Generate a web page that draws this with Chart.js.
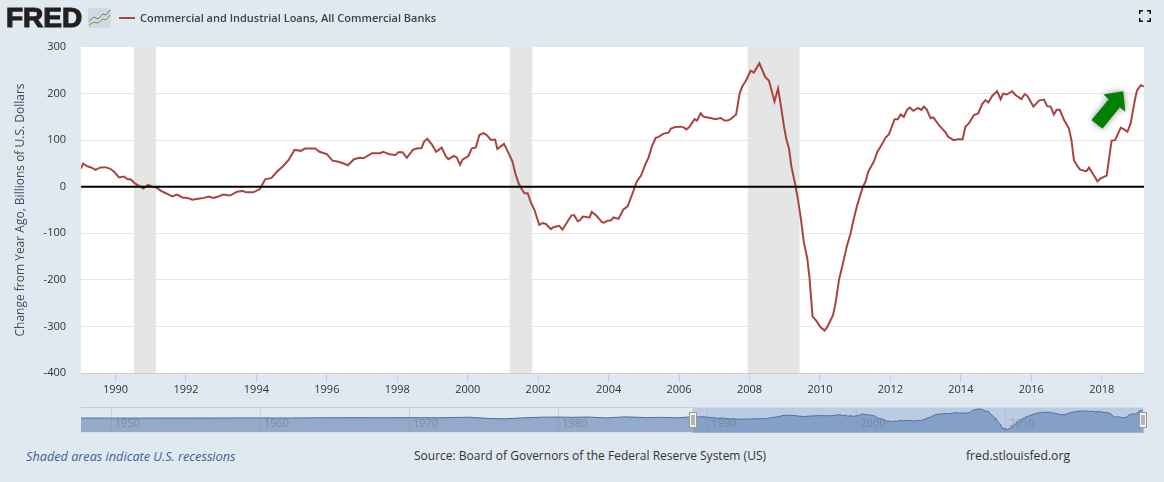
<!DOCTYPE html>
<html>
<head>
<meta charset="utf-8">
<script src="https://cdn.jsdelivr.net/npm/chart.js@4"></script>
<style>
  html, body { margin: 0; padding: 0; background: #e1e9f0; overflow: hidden; }
  body { width: 1164px; height: 482px; position: relative; font-family: "Open Sans", sans-serif; }
  canvas { position: absolute; left: 0; }
  .txt { position: absolute; white-space: nowrap; }
  #logo { left: 6px; top: 1px; font: bold 28px/34px "Liberation Sans", sans-serif; color: #231f20; -webkit-text-stroke: 1.2px #231f20; }
  #legendLine { position: absolute; left: 119px; top: 17px; width: 16px; height: 2px; background: #a94442; }
  #chartTitle { left: 140px; top: 9px; font-size: 11px; line-height: 18px; font-weight: 600; color: #3b4250; }
  #recessionNote { left: 26px; top: 447px; font-size: 12.7px; line-height: 18px; font-style: italic; color: #3f6296; }
  #source { left: 414px; top: 447px; font-size: 12px; line-height: 18px; color: #333; }
  #site { left: 966px; top: 447px; font-size: 12.2px; line-height: 18px; color: #333; }
  svg { position: absolute; }
</style>
</head>
<body>
<canvas id="mainChart" width="1164" height="400" style="top:0;width:1164px;height:400px"></canvas>
<canvas id="navChart" width="1164" height="40" style="top:400px;width:1164px;height:40px"></canvas>

<div id="logo" class="txt">FRED</div>
<svg style="left:88px;top:8px" width="23" height="20" viewBox="0 0 23 20">
  <rect width="23" height="20" rx="2" fill="#d4d9dd"/>
  <polyline points="1,13 6,9 10,11 15,6 18,7 22,2" fill="none" stroke="#5a7fa8" stroke-width="1"/>
  <polyline points="1,17 6,14 10,15 15,11 18,12 22,7" fill="none" stroke="#6b9e4a" stroke-width="1"/>
</svg>
<div id="legendLine"></div>
<div id="chartTitle" class="txt">Commercial and Industrial Loans, All Commercial Banks</div>
<svg style="left:1139px;top:10px" width="12" height="12" viewBox="0 0 12 12">
  <path d="M0.75 4V0.75H4M8 0.75H11.25V4M11.25 8V11.25H8M4 11.25H0.75V8" fill="none" stroke="#111" stroke-width="1.5"/>
</svg>
<div id="recessionNote" class="txt">Shaded areas indicate U.S. recessions</div>
<div id="source" class="txt">Source: Board of Governors of the Federal Reserve System (US)</div>
<div id="site" class="txt">fred.stlouisfed.org</div>

<script>
const seriesName = "Commercial and Industrial Loans, All Commercial Banks";
const yAxisTitle = "Change from Year Ago, Billions of U.S. Dollars";

const years = [
  1989.02,1989.08,1989.2,1989.32,1989.43,1989.56,1989.7,1989.84,1989.96,1990.1,1990.24,1990.34,1990.43,1990.55,1990.68,1990.79,1990.92,1991.05,1991.17,1991.29,
  1991.43,1991.61,1991.75,1991.9,1992.04,1992.18,1992.35,1992.51,1992.64,1992.78,1992.92,1993.06,1993.25,1993.44,1993.61,1993.7,1993.91,1994.1,1994.25,1994.43,
  1994.58,1994.74,1994.91,1995.08,1995.26,1995.38,1995.67,1995.79,1996.0,1996.16,1996.3,1996.44,1996.6,1996.77,1996.93,1997.04,1997.28,1997.51,1997.6,1997.78,
  1997.94,1998.03,1998.15,1998.27,1998.44,1998.55,1998.69,1998.76,1998.85,1998.98,1999.1,1999.26,1999.38,1999.45,1999.61,1999.69,1999.78,1999.85,2000.02,2000.11,
  2000.23,2000.33,2000.45,2000.54,2000.65,2000.78,2000.84,2001.03,2001.16,2001.27,2001.35,2001.44,2001.53,2001.61,2001.7,2001.8,2001.89,2002.03,2002.13,2002.22,
  2002.36,2002.43,2002.6,2002.69,2002.94,2003.02,2003.12,2003.17,2003.27,2003.46,2003.52,2003.65,2003.81,2003.87,2003.97,2004.07,2004.14,2004.28,2004.42,2004.54,
  2004.68,2004.8,2004.92,2005.06,2005.13,2005.23,2005.34,2005.42,2005.56,2005.7,2005.77,2005.89,2006.04,2006.13,2006.21,2006.3,2006.44,2006.51,2006.61,2006.7,
  2006.89,2007.03,2007.18,2007.29,2007.38,2007.46,2007.62,2007.72,2007.79,2007.91,2008.03,2008.12,2008.28,2008.41,2008.45,2008.55,2008.71,2008.81,2008.88,2008.98,
  2009.04,2009.12,2009.19,2009.31,2009.37,2009.45,2009.54,2009.64,2009.7,2009.79,2009.9,2010.02,2010.13,2010.21,2010.37,2010.44,2010.54,2010.63,2010.76,2010.87,
  2010.95,2011.06,2011.22,2011.3,2011.37,2011.53,2011.63,2011.77,2011.86,2011.96,2012.12,2012.21,2012.29,2012.38,2012.48,2012.55,2012.65,2012.78,2012.88,2012.95,
  2013.03,2013.14,2013.22,2013.38,2013.57,2013.64,2013.8,2013.92,2014.05,2014.13,2014.23,2014.37,2014.49,2014.61,2014.7,2014.78,2014.89,2015.03,2015.13,2015.2,
  2015.3,2015.46,2015.55,2015.72,2015.81,2015.89,2016.06,2016.22,2016.36,2016.45,2016.55,2016.64,2016.72,2016.81,2016.93,2017.07,2017.14,2017.21,2017.31,2017.38,
  2017.52,2017.57,2017.64,2017.73,2017.88,2017.97,2018.14,2018.28,2018.38,2018.54,2018.63,2018.73,2018.82,2018.94,2019.0,2019.11,2019.2
];
const values = [
  39,50,44,41,36,41,42,39,32,20,22,16,16,7,1.5,-4,4,0,-2,-9,
  -14,-21,-17,-23,-24,-28,-26,-24,-21,-24,-21,-17,-19,-11,-9,-12,-12,-5,16,19,
  32,43,57,79,77,82,82,75,70,56,54,51,46,59,62,61,72,72,75,69.5,
  68,74,74,62,79,82,83,97,103,91,75,84,65,59,66,63,47,58,66,82,
  84.5,111,115,111,101,101,81,92,72,54,29,8,-5,-14,-14,-35,-49,-82,-78,-80,
  -91,-87,-84,-92,-62,-61,-74,-73,-64,-66,-54,-62,-76,-77,-73,-72,-66,-69,-49,-42,
  -14,11.5,24,51,62,87,105,107,114,116,125,128,129,127.5,123,129,145,142,157.5,150,
  147.5,145,147.5,142,142,145,155,200,215,229,249,245,265,242,235,228,183,211,179,129,
  104,82,43,0,-25,-64,-118,-154,-193,-279,-288,-302,-309,-301,-276,-251,-200,-172,-129,-100,
  -72,-39,0,12,32,54,75,92,105,113,145,145,155,150,166,170,163,169,165,172,
  166,147,149,132,116,107,100,102,102,129,136,154,157.5,178,186,181,195,205,188,200,
  198,205,197,188,199,195,172,185,187,173,172,155,165,165,143,125,100,57,44,37,
  34,34,41,30,11.5,18,24,99,100,127,123,118,136,186,206,218,215
];

const yMin = -400;
const yMax = 300;
const yStep = 100;
const xMin = 1989.02;
const xMax = 2019.2;
const xStep = 2;

const recessionStarts = [1990.52, 2001.19, 2007.95];
const recessionEnds = [1991.15, 2001.83, 2009.42];

// green arrow, in chart units
const arrowYears = [2018.05, 2018.61, 2018.67, 2018.51, 2018.02, 2017.71, 2018.2];
const arrowValues = [198, 205, 161, 170.5, 124.5, 143, 188];

// navigator: earlier history, then the main series again
const navYears = [1948,1950,1953,1955,1957,1960,1962,1964,1966,1968,1970,1972,1974,1975.5,1976.5,1977.5,1979,1980,1981,1982,1983.2,1984.5,1986,1987,1988,1989.02];
const navValues = [5,2,5,6,6,8,6,12,16,14,16,12,28,-10,-16,8,30,32,24,34,8,38,18,25,12,39];
const navDecades = [1950, 1960, 1970, 1980, 1990, 2000, 2010];
const navMin = 1948;
const navMax = 2019.3;

const toPoints = (xs, ys) => xs.map((x, i) => ({ x: x, y: ys[i] }));

const recessionBands = {
  id: "recessionBands",
  beforeDraw(chart) {
    const { ctx, chartArea: a } = chart;
    ctx.save();
    ctx.fillStyle = "#fff";
    ctx.fillRect(a.left, a.top, a.right - a.left, a.bottom - a.top);
    ctx.restore();
  },
  beforeDatasetsDraw(chart) {
    const { ctx, chartArea: a, scales: { x } } = chart;
    ctx.save();
    ctx.fillStyle = "#e5e5e5";
    recessionStarts.forEach((s, i) => {
      const x0 = x.getPixelForValue(s);
      const x1 = x.getPixelForValue(recessionEnds[i]);
      ctx.fillRect(x0, a.top, x1 - x0, a.bottom - a.top);
    });
    ctx.restore();
  },
  afterDatasetsDraw(chart) {
    const { ctx, scales: { x, y } } = chart;
    ctx.save();
    ctx.shadowColor = "rgba(0,0,0,0.45)";
    ctx.shadowBlur = 6;
    ctx.fillStyle = "#008000";
    ctx.beginPath();
    arrowYears.forEach((yr, i) => {
      const px = x.getPixelForValue(yr);
      const py = y.getPixelForValue(arrowValues[i]);
      if (i === 0) ctx.moveTo(px, py); else ctx.lineTo(px, py);
    });
    ctx.closePath();
    ctx.fill();
    ctx.restore();
  },
};

new Chart(document.getElementById("mainChart"), {
  type: "line",
  plugins: [recessionBands],
  data: {
    datasets: [
      {
        label: "zero",
        data: toPoints([xMin, xMax], [0, 0]),
        borderColor: "#000",
        borderWidth: 2,
        pointRadius: 0,
        order: 0,
      },
      {
        label: seriesName,
        data: toPoints(years, values),
        borderColor: "#a94442",
        borderWidth: 2,
        pointRadius: 0,
        tension: 0,
        order: 1,
      },
    ],
  },
  options: {
    responsive: false,
    animation: false,
    devicePixelRatio: 1,
    layout: { padding: { left: 0, right: 20, top: 47, bottom: 0 } },
    plugins: { legend: { display: false }, tooltip: { enabled: false } },
    scales: {
      x: {
        type: "linear",
        min: xMin,
        max: xMax,
        afterFit: (s) => { s.height = 27; },
        border: { color: "#c0d0e0", width: 1 },
        grid: { drawOnChartArea: false, tickColor: "#c0d0e0", tickLength: 9 },
        ticks: {
          stepSize: xStep,
          includeBounds: false,
          maxRotation: 0,
          padding: 1,
          color: "#333",
          font: { family: "Open Sans", size: 11 },
          callback: (v) => String(v),
        },
      },
      y: {
        min: yMin,
        max: yMax,
        afterFit: (s) => { s.width = 81; },
        border: { display: false },
        grid: {
          drawTicks: false,
          color: (c) => (c.tick.value === yMax ? "rgba(0,0,0,0)" : "#e6e6e6"),
        },
        title: {
          display: true,
          text: yAxisTitle,
          color: "#3a5068",
          padding: { top: 13, bottom: 0 },
          font: { family: "Open Sans", size: 12 },
        },
        ticks: {
          stepSize: yStep,
          padding: 15,
          color: "#333",
          font: { family: "Open Sans", size: 11 },
        },
      },
    },
  },
});

const navDecor = {
  id: "navDecor",
  beforeDatasetsDraw(chart) {
    const { ctx, chartArea: a, scales: { x } } = chart;
    const s = x.getPixelForValue(xMin);
    const e = x.getPixelForValue(xMax);
    ctx.save();
    ctx.fillStyle = "#bccbe2";
    ctx.fillRect(s, a.top, e - s + 1, a.bottom - a.top);
    ctx.fillStyle = "#ccc";
    ctx.fillRect(a.left, a.top - 0.5, s - a.left, 1);
    ctx.restore();
  },
  afterDatasetsDraw(chart) {
    const { ctx, chartArea: a, scales: { x } } = chart;
    const s = x.getPixelForValue(xMin);
    const e = x.getPixelForValue(xMax);
    ctx.save();
    ctx.textBaseline = "middle";
    ctx.font = '11px "Open Sans"';
    navDecades.forEach((d) => {
      const px = x.getPixelForValue(d);
      ctx.fillStyle = "rgba(120,130,140,0.18)";
      ctx.fillRect(Math.round(px), a.top, 1, a.bottom - a.top);
      ctx.fillStyle = "rgba(110,115,125,0.55)";
      ctx.fillText(String(d), px + 4, 24);
    });
    ctx.fillStyle = "#a3afc4";
    ctx.fillRect(s, a.bottom - 0.5, e - s + 1, 1);
    [s, e].forEach((px) => {
      const hx = Math.round(px) - 4;
      ctx.fillStyle = "#999";
      ctx.fillRect(hx + 3.5, 27, 1, 5);
      ctx.fillStyle = "#f4f4f4";
      ctx.strokeStyle = "#999";
      ctx.lineWidth = 1;
      ctx.fillRect(hx + 0.5, 12.5, 7, 15);
      ctx.strokeRect(hx + 0.5, 12.5, 7, 15);
      ctx.fillStyle = "#777";
      ctx.fillRect(hx + 2.5, 15, 1, 10);
      ctx.fillRect(hx + 4.5, 15, 1, 10);
    });
    ctx.restore();
  },
};

new Chart(document.getElementById("navChart"), {
  type: "line",
  plugins: [navDecor],
  data: {
    datasets: [
      {
        data: toPoints(navYears, navValues),
        borderColor: "#4572a7",
        backgroundColor: "#93aaca",
        borderWidth: 1,
        pointRadius: 0,
        fill: "start",
      },
      {
        data: toPoints(years, values),
        borderColor: "#4572a7",
        backgroundColor: "#84a0c6",
        borderWidth: 1,
        pointRadius: 0,
        fill: "start",
      },
    ],
  },
  options: {
    responsive: false,
    animation: false,
    devicePixelRatio: 1,
    layout: { padding: { left: 81, right: 20, top: 7.5, bottom: 7.5 } },
    plugins: { legend: { display: false }, tooltip: { enabled: false } },
    scales: {
      x: { type: "linear", display: false, min: navMin, max: navMax },
      y: { display: false, min: yMin, max: yMax },
    },
  },
});
</script>
</body>
</html>
